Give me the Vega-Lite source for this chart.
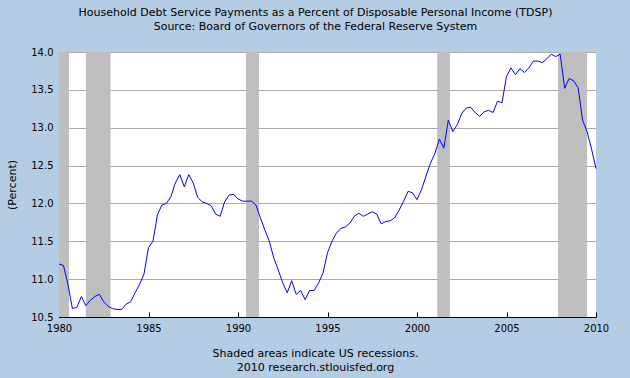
{
  "$schema": "https://vega.github.io/schema/vega-lite/v6.json",
  "width": 537,
  "height": 265,
  "autosize": "none",
  "padding": {"left": 59, "top": 52, "right": 34, "bottom": 61},
  "background": "#B4CCE4",
  "config": {"view": {"stroke": null, "fill": "#FFFFFF"}, "font": "DejaVu Sans"},
  "title": {
    "text": ["Household Debt Service Payments as a Percent of Disposable Personal Income (TDSP)", "Source: Board of Governors of the Federal Reserve System"],
    "fontSize": 11,
    "fontWeight": "normal",
    "lineHeight": 14,
    "anchor": "middle",
    "dx": -12,
    "dy": -11,
    "color": "#000000"
  },
  "layer": [
    {
      "data": {"values": [
        {"start": 1980.0, "end": 1980.56},
        {"start": 1981.5, "end": 1982.88},
        {"start": 1990.45, "end": 1991.17},
        {"start": 2001.13, "end": 2001.84},
        {"start": 2007.88, "end": 2009.5}
      ]},
      "mark": {"type": "rect", "color": "#BEBEBE", "opacity": 1},
      "encoding": {
        "x": {
          "field": "start", "type": "quantitative",
          "scale": {"domain": [1980, 2010], "nice": false, "zero": false},
          "axis": {
            "title": ["Shaded areas indicate US recessions.", "2010 research.stlouisfed.org"],
            "values": [1980, 1985, 1990, 1995, 2000, 2005, 2010],
            "format": "d",
            "grid": false,
            "tickSize": -5,
            "tickColor": "#000000",
            "domainColor": "#000000",
            "labelColor": "#000000",
            "labelFontSize": 10,
            "labelPadding": 11,
            "labelFlush": false,
            "titleFontSize": 11,
            "titleFontWeight": "normal",
            "titleColor": "#000000",
            "titleLineHeight": 14,
            "titleX": 256,
            "titleY": 39,
            "titleBaseline": "alphabetic"
          }
        },
        "x2": {"field": "end"}
      }
    },
    {
      "data": {"values": [
        {"year": 1980.00, "value": 11.20}, {"year": 1980.25, "value": 11.18}, {"year": 1980.50, "value": 10.93}, {"year": 1980.75, "value": 10.61},
        {"year": 1981.00, "value": 10.63}, {"year": 1981.25, "value": 10.77}, {"year": 1981.50, "value": 10.65}, {"year": 1981.75, "value": 10.72},
        {"year": 1982.00, "value": 10.77}, {"year": 1982.25, "value": 10.80}, {"year": 1982.50, "value": 10.70}, {"year": 1982.75, "value": 10.64},
        {"year": 1983.00, "value": 10.61}, {"year": 1983.25, "value": 10.60}, {"year": 1983.50, "value": 10.60}, {"year": 1983.75, "value": 10.67},
        {"year": 1984.00, "value": 10.70}, {"year": 1984.25, "value": 10.82}, {"year": 1984.50, "value": 10.93}, {"year": 1984.75, "value": 11.07},
        {"year": 1985.00, "value": 11.42}, {"year": 1985.25, "value": 11.50}, {"year": 1985.50, "value": 11.85}, {"year": 1985.75, "value": 11.98},
        {"year": 1986.00, "value": 12.00}, {"year": 1986.25, "value": 12.09}, {"year": 1986.50, "value": 12.27}, {"year": 1986.75, "value": 12.38},
        {"year": 1987.00, "value": 12.22}, {"year": 1987.25, "value": 12.38}, {"year": 1987.50, "value": 12.27}, {"year": 1987.75, "value": 12.08},
        {"year": 1988.00, "value": 12.02}, {"year": 1988.25, "value": 12.00}, {"year": 1988.50, "value": 11.97}, {"year": 1988.75, "value": 11.86},
        {"year": 1989.00, "value": 11.83}, {"year": 1989.25, "value": 12.02}, {"year": 1989.50, "value": 12.11}, {"year": 1989.75, "value": 12.12},
        {"year": 1990.00, "value": 12.06}, {"year": 1990.25, "value": 12.03}, {"year": 1990.50, "value": 12.03}, {"year": 1990.75, "value": 12.03},
        {"year": 1991.00, "value": 11.98}, {"year": 1991.25, "value": 11.81}, {"year": 1991.50, "value": 11.65}, {"year": 1991.75, "value": 11.50},
        {"year": 1992.00, "value": 11.28}, {"year": 1992.25, "value": 11.12}, {"year": 1992.50, "value": 10.95}, {"year": 1992.75, "value": 10.82},
        {"year": 1993.00, "value": 10.98}, {"year": 1993.25, "value": 10.80}, {"year": 1993.50, "value": 10.85}, {"year": 1993.75, "value": 10.73},
        {"year": 1994.00, "value": 10.85}, {"year": 1994.25, "value": 10.85}, {"year": 1994.50, "value": 10.95}, {"year": 1994.75, "value": 11.08},
        {"year": 1995.00, "value": 11.35}, {"year": 1995.25, "value": 11.50}, {"year": 1995.50, "value": 11.61}, {"year": 1995.75, "value": 11.67},
        {"year": 1996.00, "value": 11.69}, {"year": 1996.25, "value": 11.74}, {"year": 1996.50, "value": 11.83}, {"year": 1996.75, "value": 11.87},
        {"year": 1997.00, "value": 11.83}, {"year": 1997.25, "value": 11.86}, {"year": 1997.50, "value": 11.89}, {"year": 1997.75, "value": 11.86},
        {"year": 1998.00, "value": 11.73}, {"year": 1998.25, "value": 11.76}, {"year": 1998.50, "value": 11.77}, {"year": 1998.75, "value": 11.81},
        {"year": 1999.00, "value": 11.91}, {"year": 1999.25, "value": 12.03}, {"year": 1999.50, "value": 12.16}, {"year": 1999.75, "value": 12.14},
        {"year": 2000.00, "value": 12.05}, {"year": 2000.25, "value": 12.18}, {"year": 2000.50, "value": 12.36}, {"year": 2000.75, "value": 12.53},
        {"year": 2001.00, "value": 12.66}, {"year": 2001.25, "value": 12.85}, {"year": 2001.50, "value": 12.73}, {"year": 2001.75, "value": 13.10},
        {"year": 2002.00, "value": 12.95}, {"year": 2002.25, "value": 13.04}, {"year": 2002.50, "value": 13.19}, {"year": 2002.75, "value": 13.26},
        {"year": 2003.00, "value": 13.27}, {"year": 2003.25, "value": 13.20}, {"year": 2003.50, "value": 13.15}, {"year": 2003.75, "value": 13.21},
        {"year": 2004.00, "value": 13.23}, {"year": 2004.25, "value": 13.20}, {"year": 2004.50, "value": 13.35}, {"year": 2004.75, "value": 13.33},
        {"year": 2005.00, "value": 13.68}, {"year": 2005.25, "value": 13.79}, {"year": 2005.50, "value": 13.70}, {"year": 2005.75, "value": 13.78},
        {"year": 2006.00, "value": 13.73}, {"year": 2006.25, "value": 13.79}, {"year": 2006.50, "value": 13.88}, {"year": 2006.75, "value": 13.88},
        {"year": 2007.00, "value": 13.86}, {"year": 2007.25, "value": 13.91}, {"year": 2007.50, "value": 13.97}, {"year": 2007.75, "value": 13.94},
        {"year": 2008.00, "value": 13.97}, {"year": 2008.25, "value": 13.52}, {"year": 2008.50, "value": 13.65}, {"year": 2008.75, "value": 13.62},
        {"year": 2009.00, "value": 13.53}, {"year": 2009.25, "value": 13.10}, {"year": 2009.50, "value": 12.95}, {"year": 2009.75, "value": 12.72},
        {"year": 2010.00, "value": 12.46}
      ]},
      "mark": {"type": "line", "color": "#0000FF", "strokeWidth": 1},
      "encoding": {
        "x": {
          "field": "year", "type": "quantitative",
          "scale": {"domain": [1980, 2010], "nice": false, "zero": false},
          "axis": {
            "title": ["Shaded areas indicate US recessions.", "2010 research.stlouisfed.org"],
            "values": [1980, 1985, 1990, 1995, 2000, 2005, 2010],
            "format": "d",
            "grid": false,
            "tickSize": -5,
            "tickColor": "#000000",
            "domainColor": "#000000",
            "labelColor": "#000000",
            "labelFontSize": 10,
            "labelPadding": 11,
            "labelFlush": false,
            "titleFontSize": 11,
            "titleFontWeight": "normal",
            "titleColor": "#000000",
            "titleLineHeight": 14,
            "titleX": 256,
            "titleY": 39,
            "titleBaseline": "alphabetic"
          }
        },
        "y": {
          "field": "value", "type": "quantitative",
          "scale": {"domain": [10.5, 14.0], "nice": false, "zero": false},
          "axis": {
            "title": "(Percent)",
            "values": [10.5, 11.0, 11.5, 12.0, 12.5, 13.0, 13.5, 14.0],
            "format": ".1f",
            "grid": true,
            "gridColor": "#AAAAAA",
            "gridOpacity": 1,
            "tickSize": -5,
            "tickColor": "#000000",
            "domainColor": "#000000",
            "labelColor": "#000000",
            "labelFontSize": 10,
            "labelPadding": 11,
            "labelFlush": false,
            "titleFontSize": 11,
            "titleFontWeight": "normal",
            "titleColor": "#000000",
            "titleX": -47,
            "titleY": 132.5,
            "titleBaseline": "middle",
            "titleAlign": "center",
            "titleAngle": -90
          }
        }
      }
    }
  ]
}
